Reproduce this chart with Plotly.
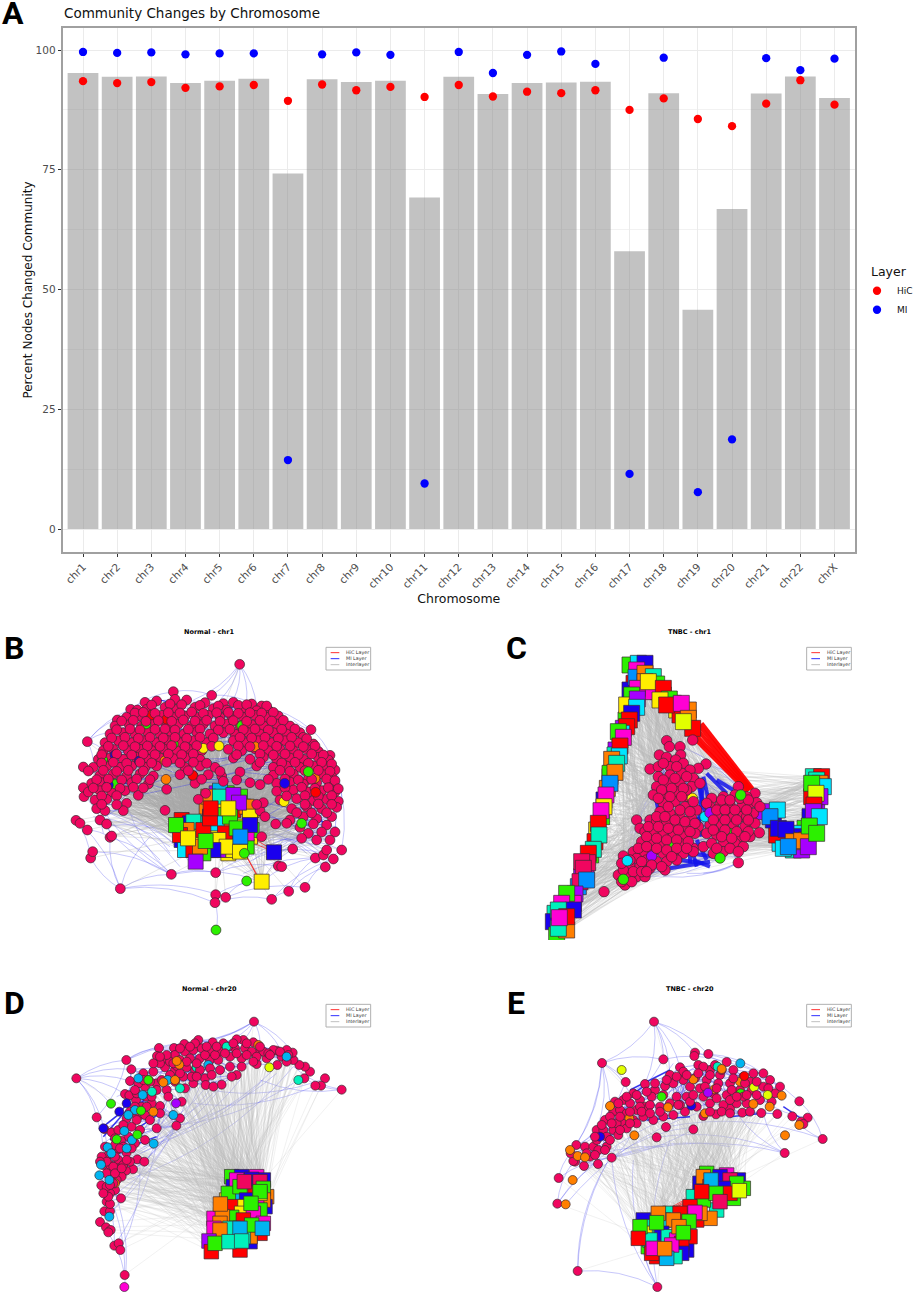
"""Community changes by chromosome, with four multilayer network panels."""
import plotly.graph_objects as go

FONT = "DejaVu Sans"
W, H = 913, 1293

# Panel A
CHROMS = [f"chr{i}" for i in range(1, 23)] + ["chrX"]
BAR_PCT = [95.2, 94.4, 94.5, 93.1, 93.6, 94.0, 74.2, 93.9, 93.3, 93.6, 69.2, 94.4,
           90.8, 93.1, 93.2, 93.4, 58.0, 91.0, 45.8, 66.8, 90.9, 94.5, 90.0]
HIC_PCT = [93.5, 93.1, 93.3, 92.1, 92.4, 92.7, 89.4, 92.8, 91.6, 92.3, 90.2, 92.7,
           90.3, 91.3, 91.0, 91.6, 87.5, 89.9, 85.6, 84.1, 88.8, 93.7, 88.6]
MI_PCT = [99.6, 99.4, 99.5, 99.1, 99.3, 99.3, 14.4, 99.1, 99.5, 99.0, 9.5, 99.6,
          95.2, 99.0, 99.7, 97.1, 11.5, 98.4, 7.7, 18.7, 98.3, 95.8, 98.2]

# community colours used by the network nodes
COMM = {"r": "#ff0000", "g": "#2cf000", "b": "#1a00ee", "y": "#ffee00", "p": "#a600ff",
        "o": "#ff7f00", "s": "#00b4f0", "m": "#ff00d4", "t": "#00f0bc", "k": "#f0065f",
        "c": "#00e4ff", "l": "#e2ff00", "u": "#0090ff"}
PINK = "#f0065f"

# Panel B, Normal chr1
B_outer = [(539,133),(340,215),(455,226),(255,247),(212,268),(232,270),(172,300),(82,365),(70,441),
           (753,329),(810,406),(825,450),(845,690),(820,717),(796,741),(735,802),(686,814),(635,838),
           (497,832),(467,824),(465,848),(467,758),(334,763),(181,806),(92,714),(98,695),(150,652),
           (48,601),(82,630),(60,610),(315,571),(437,520),(415,538),(655,738),(665,740),(698,687),
           (766,714),(790,705),(800,690),(70,503),(72,530)]
B_pink = [(290,243),(345,238),(380,240),(435,248),(490,251),(520,247),(575,252),(605,258),
          (260,268),(315,262),(350,268),(405,262),(460,266),(500,270),(550,265),(590,272),(625,270),
          (200,292),(235,288),(270,292),(305,286),(340,292),(375,288),(410,292),(445,286),(480,292),(515,288),(550,292),(585,286),(620,292),(655,288),
          (165,318),(208,314),(245,318),(280,312),(320,318),(355,312),(395,318),(430,312),(465,318),(500,312),(540,318),(575,314),(610,318),(650,312),(690,318),
          (150,342),(190,338),(225,342),(262,336),(300,342),(335,338),(372,342),(410,336),(450,342),(490,338),(525,342),(565,338),(600,342),(640,338),(680,342),(720,338),(730,352),
          (135,368),(175,362),(215,368),(250,362),(290,368),(325,362),(360,368),(400,362),(440,368),(520,362),(555,368),(595,362),(635,368),(675,362),(715,368),(760,372),
          (130,392),(160,388),(205,392),(240,388),(275,392),(310,386),(350,392),(385,388),(425,392),(505,388),(545,392),(585,386),(625,392),(660,388),(700,392),(740,388),(775,394),
          (115,418),(150,414),(190,418),(228,412),(265,418),(300,414),(340,416),(375,412),(420,418),(520,414),(570,418),(610,412),(650,418),(690,414),(730,418),(775,412),(805,420),
          (100,442),(140,438),(180,442),(215,438),(255,442),(290,438),(375,442),(420,438),(465,442),(590,438),(640,442),(680,438),(720,442),(760,438),(800,444),
          (120,466),(160,462),(200,468),(240,462),(280,468),(360,464),(400,468),(445,464),(485,468),(540,456),(640,466),(700,462),(745,478),(790,464),(815,470),
          (95,490),(125,488),(170,492),(215,488),(265,492),(405,490),(490,484),(570,488),(600,494),(650,490),(690,486),(730,492),(770,488),(810,492),
          (85,516),(120,512),(155,516),(195,512),(235,526),(320,508),(650,514),(700,510),(745,516),(785,512),(825,516),
          (105,540),(140,538),(200,550),(660,540),(710,536),(760,542),(800,538),(835,544),
          (110,566),(135,572),(190,572),(600,572),(610,548),(695,566),(740,560),(785,566),(830,562),
          (120,600),(140,612),(615,590),(690,600),(730,590),(770,596),(815,590),(647,612),(680,610),(720,622),(760,612),(800,615),
          (745,640),(785,636),(825,636),(605,650),(155,648),(725,655),(770,660),(810,660)]
B_fill = [(275,255),(330,252),(365,254),(420,256),(475,258),(535,256),(560,254),(620,258),
          (225,279),(250,277),(285,280),(325,278),(360,279),(395,276),(430,280),(470,278),(505,277),(535,280),(570,278),(605,279),(640,277),
          (185,303),(220,301),(258,304),(295,302),(335,304),(370,300),(405,303),(440,301),(480,304),(520,302),(560,304),(600,301),(635,303),(670,301),
          (170,329),(210,327),(240,330),(285,328),(315,327),(345,330),(385,328),(420,327),(475,330),(510,328),(550,329),(585,327),(625,330),(665,328),(705,327),
          (155,354),(195,352),(235,355),(270,352),(310,354),(345,352),(380,355),(420,352),(460,354),(540,352),(575,354),(615,352),(655,355),(695,352),(740,356),
          (145,379),(190,377),(225,380),(262,378),(300,379),(335,377),(375,380),(410,377),(455,379),(535,378),(570,380),(610,377),(650,379),(690,378),(730,380),(765,378),
          (125,404),(170,402),(215,405),(250,402),(285,404),(325,402),(365,404),(400,402),(530,404),(600,402),(640,405),(675,402),(715,404),(755,402),(790,405),
          (125,429),(160,427),(200,430),(240,427),(275,429),(320,427),(360,429),(400,427),(440,430),(600,427),(665,429),(705,427),(745,430),(785,427),(815,432),
          (85,453),(130,451),(170,454),(205,451),(250,453),(385,452),(480,454),(660,451),(690,454),(735,452),(775,451),(810,454),
          (110,479),(145,477),(185,480),(230,477),(270,479),(425,478),(530,480),(625,478),(675,477),(715,480),(755,478),(800,477),(825,482),
          (100,504),(140,502),(180,505),(220,502),(250,504),(675,503),(725,502),(765,505),(805,503),(835,506),
          (125,528),(170,527),(680,528),(735,527),(775,529),(815,527),(125,553),(170,554),(590,553),(735,553),(775,552),(815,553),(710,578),(755,579),(800,578)]
B_hidden = [(165,405,"b"),(238,423,"b"),(275,285,"r"),(320,298,"r"),(585,380,"o"),(165,492,"g"),(145,495,"b"),(128,420,"g"),
            (315,422,"o"),(430,385,"y"),(545,317,"g"),(258,312,"g"),(340,372,"g"),(672,545,"y"),(765,475,"o"),(398,466,"r"),(318,478,"o")]
B_other = [(745,455,"g"),(477,378,"y"),(767,517,"r"),(674,490,"b"),(560,783,"g"),(468,930,"g"),(553,700,"g"),(725,610,"g")]
B_squares = [(365,600,"r"),(390,610,"b"),(420,610,"g"),(445,610,"t"),(365,660,"b"),(385,680,"c"),(410,660,"r"),(440,640,"g"),
             (470,640,"y"),(520,660,"b"),(545,670,"o"),(570,650,"y"),(575,630,"g"),(575,570,"o"),(550,560,"b"),(520,570,"r"),
             (470,570,"g"),(440,560,"o"),(470,540,"y"),(500,520,"g"),(470,520,"p"),(505,700,"y"),(475,690,"p"),(450,670,"b"),
             (400,650,"y"),(520,690,"y"),
             (480,512,"s"),(445,530,"o"),(515,532,"r"),(540,530,"g"),(480,530,"t"),(560,560,"o"),(570,590,"y"),(450,590,"b"),
             (510,610,"o"),(400,605,"t"),(380,630,"o"),(360,645,"r"),(470,610,"c"),(430,630,"r"),(550,620,"y"),(495,640,"r"),
             (475,660,"y"),(500,680,"y"),(560,680,"g"),(540,695,"y"),(375,690,"c"),(400,690,"r"),(460,690,"b"),(430,700,"g"),
             (420,680,"o"),(560,640,"m"),(520,525,"p"),(537,548,"p"),(450,595,"r"),(510,590,"g"),(530,625,"g"),(570,615,"b"),
             (348,615,"g"),(452,565,"r"),(505,565,"y"),(384,655,"y"),(437,663,"g"),(541,650,"u"),(407,725,"p"),(642,697,"b"),(605,785,"y")]
B_arcs = [(539,133,480,240),(539,133,520,240),(539,133,560,245),(539,133,590,260),(539,133,455,226),(539,133,400,240),
          (82,365,165,300),(82,365,135,340),(82,365,130,390),(82,365,212,268),(82,365,100,440),
          (181,806,92,714),(181,806,150,652),(181,806,334,763),(181,806,465,848),(181,806,270,650),(181,806,497,832),
          (334,763,200,550),(334,763,120,600),(334,763,467,758),(334,763,605,785),(334,763,100,520),
          (467,824,605,785),(497,832,560,783),(497,832,735,802),(465,848,468,930),(465,848,635,838),
          (635,838,686,814),(635,838,820,717),(686,814,796,741),(735,802,845,690),(686,814,766,714),
          (605,785,766,714),(605,785,698,687),(642,697,820,640),(642,697,745,640),(600,650,780,660),(620,640,830,620),
          (590,690,790,600),(560,730,698,687),(550,760,820,717),(467,758,698,687),(467,758,655,738),
          (92,714,98,695),(82,630,150,652),(48,601,92,714),(150,652,334,763),(120,600,300,720),(110,570,380,700),
          (200,580,400,740),(60,610,181,806),(98,695,334,763),(753,329,700,300),(753,329,810,406),(810,406,845,560),
          (825,450,845,690),(172,300,270,240),(212,268,340,215),(340,215,455,226),(455,226,575,250),(605,260,753,329),
          (100,560,70,500),(70,503,130,640),(610,640,770,700),(630,660,800,690),(650,620,760,680),(640,640,796,741),
          (640,600,770,640),(620,620,800,660),(600,630,700,620),(650,650,740,700),(620,700,790,700),(100,590,330,680),(130,620,340,640),
          (610,680,820,650),(590,700,760,640),(640,720,810,620),(580,720,730,650),(660,660,845,690),(600,610,790,705),(150,580,360,740),(190,570,330,700)]
B_dense = [(300,240,340,250),(480,245,520,265),(700,320,760,370),(770,430,800,480),(730,580,800,610),(150,495,200,490)]
B_red = [(560,660,640,695),(570,650,640,690),(560,710,600,785),(555,700,605,790)]

# Panel C, TNBC chr1
C_outer = [(410,362),(418,380),(450,380),(488,360),(360,447),(528,432),(222,815),(625,728),(688,638),(625,500),(675,520)]
C_pink = [(388,405),(410,412),(452,405),(437,420),(505,445),(385,440),(420,440),(460,430),(480,450),
          (385,470),(420,465),(455,460),(490,475),(380,500),(415,490),(450,490),(485,500),(510,490),(650,530),
          (405,520),(440,515),(475,530),(545,535),(580,530),(615,525),(660,550),(680,548),(370,525),(400,550),
          (435,545),(465,560),(500,570),(540,560),(570,555),(600,555),(635,560),(670,580),(390,575),(420,580),
          (450,590),(485,595),(530,590),(560,585),(595,585),(630,590),(675,610),(360,600),(320,600),(330,625),
          (380,605),(410,610),(440,615),(470,620),(505,620),(540,615),(575,615),(610,615),(645,620),(345,635),
          (370,635),(400,640),(430,645),(460,650),(495,640),(530,640),(560,645),(595,640),(630,650),(660,650),
          (335,665),(360,665),(390,670),(420,675),(450,670),(490,685),(520,680),(545,670),(580,665),(615,670),
          (640,680),(310,695),(340,695),(370,695),(400,700),(430,700),(460,700),(490,695),(550,700),(580,695),
          (280,708),(320,715),(350,720),(380,725),(410,725),(440,720),(300,740),(330,740),(360,745),(405,750),
          (265,765),(290,765),(320,770),(345,770),(285,795),(300,770),(280,750),(530,550),(610,590),(650,590)]
C_fill = [(400,430),(440,440),(470,470),(400,480),(435,475),(470,510),(395,510),(425,505),(460,505),(385,535),(420,530),(455,530),
          (490,545),(415,560),(450,570),(480,575),(380,590),(405,590),(435,600),(465,605),(495,610),(575,540),(600,540),(630,535),
          (655,540),(560,570),(585,570),(615,570),(650,570),(690,560),(550,600),(585,600),(620,600),(655,600),(550,630),(585,630),
          (620,635),(655,635),(575,650),(605,655),(645,650),(560,685),(600,685),(625,695),(355,620),(385,620),(415,625),(445,630),
          (480,635),(350,650),(380,655),(410,660),(440,660),(475,665),(325,685),(350,680),(380,685),(410,690),(440,685),(470,685),
          (300,720),(335,725),(365,735),(395,740),(425,710),(275,730),(310,755),(335,755),(350,755),(275,785),(305,785)]
C_hidden = [(420,675,"g"),(597,640,"g"),(525,590,"c"),(540,578,"p"),(365,708,"p"),(487,535,"y")]
C_other = [(632,525,"g"),(570,714,"g"),(280,778,"g"),(292,722,"c")]
C_squares = [(312,190,"r"),(300,210,"b"),(308,240,"c"),(295,275,"y"),(288,300,"g"),(280,325,"p"),(270,360,"g"),(258,390,"p"),
             (255,405,"t"),(250,440,"r"),(240,470,"t"),(232,505,"o"),(222,540,"b"),(215,590,"g"),(200,630,"y"),(195,665,"r"),
             (182,705,"g"),(168,760,"m"),(155,770,"p"),(145,800,"u"),(125,840,"o"),(105,870,"y"),(75,880,"t"),(70,905,"b"),
             (100,925,"b"),(80,945,"g"),(110,930,"o"),(860,500,"b"),(850,470,"t"),(875,470,"r"),(845,530,"r"),(860,570,"p"),
             (840,590,"b"),(825,625,"g"),(810,640,"c"),(800,650,"b"),(770,660,"u"),(760,650,"b"),(750,670,"c"),(740,645,"r"),
             (730,600,"b"),(790,690,"t"),(830,660,"r"),(815,690,"p"),(335,175,"c"),(360,200,"y"),(385,215,"t"),(400,225,"g"),
             (430,250,"o"),(440,270,"y"),(475,270,"o"),(450,285,"r"),
             (300,135,"g"),(325,130,"c"),(345,130,"b"),(320,150,"m"),(318,172,"u"),(345,160,"o"),(370,170,"t"),(345,185,"o"),
             (380,192,"g"),(365,215,"m"),(322,205,"m"),(305,225,"g"),(290,255,"y"),(322,237,"p"),(320,262,"c"),(305,280,"b"),
             (298,300,"r"),(290,320,"r"),(275,340,"c"),(265,335,"g"),(280,352,"m"),(270,378,"r"),(268,408,"c"),(245,418,"o"),
             (260,430,"t"),(240,460,"g"),(255,457,"o"),(240,490,"u"),(228,525,"m"),(222,560,"y"),(213,572,"m"),(205,610,"r"),
             (207,645,"t"),(190,688,"t"),(175,700,"r"),(173,728,"k"),(155,725,"k"),(160,745,"k"),(150,785,"k"),(170,780,"u"),
             (135,822,"p"),(130,850,"m"),(110,820,"g"),(95,850,"m"),(130,870,"b"),(85,870,"t"),(110,890,"r"),(85,925,"t"),(88,893,"m"),
             (355,185,"y"),(400,205,"r"),(418,237,"g"),(390,240,"y"),(410,255,"r"),(454,250,"m"),(475,295,"o"),(488,325,"r"),(460,305,"l"),
             (700,575,"p"),(742,570,"c"),(720,590,"u"),(745,625,"b"),(768,628,"b"),(760,685,"c"),(790,665,"o"),(815,662,"o"),(775,680,"u"),(835,680,"p"),
             (860,480,"t"),(870,490,"o"),(880,500,"c"),(845,490,"g"),(870,530,"p"),(858,520,"l"),(852,555,"r"),(850,575,"p"),(868,590,"c"),(838,618,"g"),(860,640,"g")]
C_arcs = [(625,728,540,500),(625,728,600,650),(625,728,400,770),(625,728,520,760),(625,728,470,760),(570,714,350,770),
          (320,600,370,500),(320,600,290,710),(290,710,380,500),(300,640,390,520),(280,708,430,730),(345,770,570,715),
          (400,770,610,700),(528,432,620,500),(488,360,620,500),(410,362,610,490),(450,380,640,510),(528,432,680,520),
          (505,445,660,520),(520,460,630,520),(500,480,620,550),(500,500,600,530),(370,510,400,620),(380,520,370,620),
          (370,540,360,600),(330,600,375,510),(310,660,370,530),(360,770,620,710),(300,780,560,720)]
C_dense = [(520,480,505,620),(520,470,540,560),(475,650,500,740),(500,660,530,720),(450,720,520,730),(510,500,525,580),
           (380,510,395,560),(470,700,560,710),(420,745,540,725),(560,480,610,510),(530,460,590,520),(505,590,515,650),
           (370,500,385,570),(490,720,540,740),(480,660,480,730),(500,470,520,560)]
C_red = [(478,340,652,515),(488,335,656,512),(498,325,660,510),(508,318,664,508),(515,310,668,506),(395,255,470,285),(410,250,480,300)]

# Panel D, Normal chr20
D_outer = [(582,125),(49,295),(199,240),(845,329),(795,295),(783,317),(766,317),(733,295),(110,412),(194,885),
           (120,726),(138,742),(152,750),(145,757),(163,797),(176,790),(181,810),(133,694),(150,694)]
D_pink = [(750,275),(735,260),(718,255),(700,240),(698,218),(680,210),(650,212),(652,255),(665,230),(620,235),(590,252),
          (640,210),(600,215),(580,187),(550,180),(530,178),(555,205),(525,205),(505,200),(490,190),(458,187),(415,180),
          (373,192),(342,204),(297,204),(291,228),(315,240),(345,225),(375,215),(400,210),(425,205),(450,215),(480,215),
          (510,230),(545,235),(575,215),(610,215),(420,235),(450,240),(475,240),(530,285),(515,290),(485,314),(435,295),
          (437,315),(400,310),(370,290),(345,270),(315,262),(280,275),(250,280),(214,268),(210,303),(255,320),(290,310),
          (320,330),(375,325),(345,305),(405,270),(380,262),(350,258),(290,330),(258,350),(228,360),(195,342),(208,346),
          (300,378),(325,350),(365,365),(133,447),(155,457),(175,450),(200,415),(215,440),(240,405),(255,405),(245,380),
          (275,370),(225,400),(300,400),(360,415),(349,437),(290,445),(240,450),(205,470),(183,482),(255,480),(200,518),
          (170,510),(145,525),(125,530),(130,555),(150,555),(175,540),(232,538),(253,545),(219,568),(198,572),(175,565),
          (155,580),(185,590),(170,600),(150,600),(124,616),(165,630),(150,640),(183,655),(140,665),(150,672)]
D_fill = [(300,250),(330,245),(360,240),(390,235),(435,225),(465,225),(495,220),(530,220),(560,225),(590,230),(625,220),(680,245),
          (330,285),(360,280),(395,290),(420,270),(450,265),(480,270),(510,260),(545,260),(580,245),(265,300),(235,310),(275,350),
          (305,300),(260,380),(225,380),(210,395),(190,435),(165,475),(230,420),(270,420),(225,490),(190,500),(165,530),(140,545),
          (160,560),(190,555),(210,545),(140,580),(165,580),(140,620),(160,610),(145,650),
          (440,200),(470,200),(520,190),(560,190),(600,200),(630,225),(660,215),(685,225),(405,190),(390,200),(360,205),(320,225),
          (300,230),(280,250),(250,300),(230,340),(270,305),(135,500),(165,495),(120,545),(180,505),(215,505),(200,540),(185,565),
          (150,615),(130,640),(340,250),(380,245),(410,250),(455,285),(410,290),(460,320),(225,330)]
D_hidden = [(348,370,"p"),(200,370,"b"),(178,395,"b"),(130,445,"b"),(595,195,"o"),(165,610,"o"),(500,200,"t"),(445,255,"s"),(410,262,"t")]
D_other = [(193,921,"m"),(680,230,"s"),(715,300,"t"),(235,295,"s"),(323,300,"s"),
           (276,335,"t"),(360,325,"t"),(248,345,"s"),(225,390,"s"),(205,405,"s"),(340,405,"s"),(193,453,"s"),(216,480,"s"),
           (281,491,"s"),(143,502,"s"),(154,520,"s"),(123,554,"s"),(118,586,"s"),(148,600,"s"),(148,710,"s"),(200,505,"s"),
           (265,300,"g"),(153,371,"g"),(232,464,"g"),(170,478,"g"),(243,392,"g"),(358,254,"o"),(350,243,"o"),(310,307,"o"),
           (345,300,"o"),(280,395,"o"),(628,262,"l")]
D_squares = [(515,590,"g"),(545,590,"b"),(590,590,"m"),(610,600,"b"),(620,650,"o"),(615,680,"b"),(590,715,"g"),(600,760,"r"),
             (520,620,"b"),(500,660,"y"),(530,700,"g"),(560,730,"y"),(540,760,"m"),(570,785,"b"),
             (530,600,"m"),(575,598,"b"),(600,605,"k"),(610,625,"g"),(530,645,"s"),(505,640,"g"),(540,620,"g"),(585,640,"r"),
             (610,660,"o"),(560,660,"b"),(520,680,"r"),(555,680,"y"),(590,680,"m"),(600,690,"g"),(545,700,"y"),(515,712,"g"),
             (580,700,"m"),(550,720,"r"),(570,770,"o"),(550,770,"t"),(610,730,"m"),(520,745,"t"),(462,715,"m"),(487,710,"o"),
             (480,730,"o"),(462,745,"m"),(510,745,"t"),(600,640,"y"),(600,635,"g"),(553,605,"k"),(573,670,"g"),(481,672,"o"),
             (480,750,"o"),(575,735,"g"),(540,745,"s"),(607,745,"s"),(447,783,"p"),(454,815,"r"),(540,810,"r"),(465,790,"g"),(507,785,"t"),(545,783,"t")]
D_arcs = [(582,125,430,180),(582,125,500,185),(582,125,550,180),(582,125,600,190),(582,125,660,205),(582,125,700,220),(582,125,330,195),
          (49,295,199,240),(49,295,214,268),(49,295,210,303),(49,295,110,412),(49,295,133,447),(49,295,195,342),(49,295,150,370),
          (199,240,373,192),(199,240,297,204),(199,240,255,320),(199,240,110,412),(110,412,124,616),(133,447,120,726),
          (124,616,163,797),(120,726,194,885),(118,586,194,885),(150,600,193,921),(240,540,181,810),(300,400,163,797),
          (400,300,150,700),(500,300,200,540),(640,270,210,500),(700,260,200,600),(845,329,600,300),(845,329,733,295),
          (845,329,700,260),(795,295,450,330),(766,317,400,370),(715,300,300,440),(650,280,290,450),(610,300,250,500),
          (540,300,240,520),(582,125,280,210),(199,240,480,190),(470,300,190,540),(420,320,180,600),(360,420,170,640),(320,380,150,700),
          (280,300,120,500),(250,300,140,430),(300,250,170,350),(480,320,250,460),(440,320,240,470),(400,320,240,450),(350,400,220,520)]
D_dense = [(200,370,250,300),(180,400,220,340),(130,440,180,400),(130,470,200,390),(150,480,260,350),(240,440,300,400),(210,500,290,470),(300,230,400,200)]
D_red = []

# Panel E, TNBC chr20
E_outer = [(372,125),(216,249),(287,306),(400,238),(495,218),(493,228),(535,222),(590,246),(808,364),(833,413),(878,477),
           (764,519),(86,594),(82,671),(143,873),(382,921),(813,425),(820,432),(787,409),(490,448),(408,441),(380,472),(245,533)]
E_pink = [(742,402),(694,399),(637,398),(600,386),(558,403),(520,408),(204,552),(162,558),(135,545),(130,543),(122,520),
          (139,495),(165,500),(190,500),(180,530),(205,510),(230,500),(200,450),(225,420),(250,395),(255,365),(280,360),
          (310,340),(345,312),(375,330),(405,318),(420,285),(450,262),(505,255),(540,270),(570,285),(610,270),(640,290),
          (670,280),(700,280),(720,300),(750,320),(735,340),(700,320),(665,330),(630,330),(600,310),(565,310),(530,300),
          (495,295),(460,300),(430,310),(400,345),(365,350),(330,360),(300,370),(270,390),(240,410),(220,450),(250,450),
          (280,430),(310,420),(340,410),(370,420),(400,410),(430,405),(465,395),(500,380),(540,370),(580,375),(620,370),
          (650,370),(690,360),(725,365),(510,325),(550,340),(590,345),(440,350),(470,350),(320,390),(290,400),(260,430),
          (200,480),(230,470),(265,465),(290,445),(320,430),(345,380),(460,275),(480,320),(520,260),(555,255),(660,305)]
E_fill = [(170,520),(195,525),(225,510),(240,480),(195,470),(215,435),(270,410),(300,395),(330,380),(360,375),(390,380),(420,370),
          (450,375),(480,365),(520,350),(560,355),(600,360),(640,350),(680,345),(715,325),(680,305),(645,310),(610,295),(575,270),
          (540,285),(505,280),(470,285),(440,290),(410,300),(375,310),(350,335),(320,345),(290,350),(265,370),(245,430),(270,450),
          (300,430),(335,395),(360,400),(390,395),(445,375),(490,345),(525,320),(560,325),(605,330),(650,345),(620,350),(575,395),
          (540,395),(600,400),(660,395)]
E_hidden = [(490,298,"o"),(630,305,"o"),(240,378,"o"),(298,415,"o"),(525,400,"o"),(395,350,"g"),(632,340,"g"),(210,470,"b"),(484,377,"b"),(672,322,"l"),(553,328,"o")]
E_other = [(275,270,"l"),(713,345,"l"),(631,250,"s"),(563,260,"t"),(575,267,"o"),(128,600,"o"),(107,673,"o"),
           (765,466,"o"),(313,466,"o"),(143,528,"o"),(165,532,"o"),(120,510,"o"),(670,372,"o"),(719,380,"o"),(414,382,"o"),
           (755,347,"o"),(808,435,"o"),(534,338,"p"),(643,288,"r")]
E_squares = [(510,610,"b"),(530,580,"g"),(590,585,"m"),(625,600,"b"),(640,625,"g"),(610,655,"g"),(560,690,"t"),(540,715,"o"),
             (500,720,"r"),(420,700,"t"),(340,720,"b"),(355,800,"g"),(380,830,"r"),(470,810,"b"),(480,770,"r"),(400,720,"c"),
             (520,590,"o"),(570,590,"b"),(600,600,"k"),(620,610,"g"),(540,620,"r"),(490,650,"t"),(580,625,"b"),(600,640,"r"),
             (520,660,"g"),(480,680,"r"),(450,700,"r"),(430,720,"o"),(385,700,"o"),(350,740,"t"),(345,760,"y"),(395,760,"b"),
             (415,770,"t"),(440,780,"m"),(360,780,"t"),(330,740,"g"),(455,790,"r"),(455,820,"b"),(435,830,"t"),(365,820,"r"),
             (510,700,"o"),(425,795,"m"),(543,600,"s"),(558,640,"g"),(515,635,"r"),(628,632,"l"),(570,665,"k"),(495,697,"m"),
             (477,724,"g"),(380,728,"g"),(447,740,"o"),(460,758,"g"),(325,775,"r"),(410,835,"s"),(370,805,"m"),(404,806,"o")]
E_arcs = [(372,125,400,238),(372,125,216,249),(372,125,345,312),(372,125,450,262),(372,125,495,218),(372,125,535,222),(372,125,420,285),
          (216,249,287,306),(216,249,139,495),(216,249,230,500),(216,249,400,238),(216,249,122,520),(216,249,300,340),(216,249,200,450),
          (86,594,122,520),(86,594,245,533),(82,671,130,545),(82,671,250,520),(82,671,400,420),(107,673,500,400),(143,873,260,500),
          (143,873,230,550),(382,921,245,533),(382,921,310,540),(382,921,420,480),(382,921,330,720),(143,873,382,921),(245,533,764,519),
          (380,472,764,519),(408,441,878,477),(808,364,878,477),(764,519,700,400),(764,519,620,400),(878,477,787,409),(833,413,700,360),
          (300,470,245,533),(490,448,130,540),(245,533,500,440),(400,238,590,246),(495,218,640,290),(535,222,700,280),(287,306,150,495),
          (400,238,150,490),(245,533,600,500),(120,560,400,500),(500,220,720,300),(590,246,808,364),(430,250,120,510)]
E_dense = [(215,430,300,340),(240,390,340,320),(180,470,240,410),(300,330,420,270),(760,380,820,420),(600,410,700,400),(350,420,480,410)]
E_red = [(410,700,490,650),(415,705,500,650),(420,710,510,640),(405,695,490,660),(430,710,480,670),(440,715,510,660),(420,690,500,640),(412,688,490,645)]

# title, crop left/top/width/height, title y, legend top, then the panel's nodes and edges
PANELS = [
    dict(title="Normal - chr1", left=60, top=620, cw=320, ch=320, title_x=447, title_y=35, leg_x=798, leg_top=82,
         outer=B_outer, pink=B_pink, fill=B_fill, hidden=B_hidden, other=B_other, squares=B_squares, arcs=B_arcs, dense=B_dense, red=B_red,
         red_w=1, red_a=0.6, sq=15, node=9.8, dense_w=1.2, fan=5, grey="rgba(170,170,170,0.45)"),
    dict(title="TNBC - chr1", left=530, top=620, cw=330, ch=320, title_x=480, title_y=35, leg_x=830, leg_top=82,
         outer=C_outer, pink=C_pink, fill=C_fill, hidden=C_hidden, other=C_other, squares=C_squares, arcs=C_arcs, dense=C_dense, red=C_red,
         red_w=4, red_a=0.95, sq=16, node=10.5, dense_w=4, fan=6, grey="rgba(185,185,185,0.4)"),
    dict(title="Normal - chr20", left=60, top=980, cw=320, ch=313, title_x=447, title_y=27, leg_x=798, leg_top=73,
         outer=D_outer, pink=D_pink, fill=D_fill, hidden=D_hidden, other=D_other, squares=D_squares, arcs=D_arcs, dense=D_dense, red=D_red,
         red_w=1, red_a=0.6, sq=14.5, node=9, dense_w=1.5, fan=3, grey="rgba(190,190,190,0.32)"),
    dict(title="TNBC - chr20", left=530, top=980, cw=330, ch=313, title_x=480, title_y=27, leg_x=830, leg_top=73,
         outer=E_outer, pink=E_pink, fill=E_fill, hidden=E_hidden, other=E_other, squares=E_squares, arcs=E_arcs, dense=E_dense, red=E_red,
         red_w=1, red_a=0.6, sq=14.5, node=9, dense_w=1.5, fan=3, grey="rgba(190,190,190,0.32)"),
]


def segments(edges):
    xs, ys = [], []
    for x0, y0, x1, y1 in edges:
        xs += [x0, x1, None]
        ys += [y0, y1, None]
    return xs, ys


def arc_path(edges):
    parts = []
    for x0, y0, x1, y1 in edges:
        cx = (x0 + x1) / 2 + (y1 - y0) * 0.14
        cy = (y0 + y1) / 2 - (x1 - x0) * 0.14
        parts.append(f"M {x0} {y0} Q {cx:.1f} {cy:.1f} {x1} {y1}")
    return " ".join(parts)


def px_x(x):
    return x / W


def px_y(y):
    return 1 - y / H


def near(a, b, limit=110):
    return abs(a[0] - b[0]) < limit and abs(a[1] - b[1]) < limit


def line_trace(edges, xa, ya, color, width):
    xs, ys = segments(edges)
    return go.Scatter(x=xs, y=ys, xaxis=xa, yaxis=ya, mode="lines", showlegend=False, hoverinfo="skip",
                      line=dict(color=color, width=width))


def node_trace(points, xa, ya, size, color, symbol="circle"):
    return go.Scatter(x=[q[0] for q in points], y=[q[1] for q in points], xaxis=xa, yaxis=ya, mode="markers",
                      showlegend=False, hoverinfo="skip",
                      marker=dict(symbol=symbol, size=size, color=color, line=dict(color="#3a2a30", width=0.7)))


fig = go.Figure()

# --- Panel A ---
fig.add_trace(go.Bar(x=CHROMS, y=BAR_PCT, width=0.9, marker=dict(color="rgba(128,128,128,0.48)", line_width=0),
                     showlegend=False, hoverinfo="skip"))
fig.add_trace(go.Scatter(x=CHROMS, y=HIC_PCT, mode="markers", name="HiC", marker=dict(color="#ff0000", size=8.3)))
fig.add_trace(go.Scatter(x=CHROMS, y=MI_PCT, mode="markers", name="MI", marker=dict(color="#0000ff", size=8.3)))

annotations = [
    dict(text="Community Changes by Chromosome", x=px_x(62), y=px_y(13), xref="paper", yref="paper",
         xanchor="left", yanchor="middle", showarrow=False, font=dict(size=13.5, color="#111")),
]
for letter, lx, ly in [("A", 13, 13), ("B", 14, 648), ("C", 516, 648), ("D", 14, 1003), ("E", 516, 1003)]:
    annotations.append(dict(text=f"<b>{letter}</b>", x=px_x(lx), y=px_y(ly), xref="paper", yref="paper",
                            xanchor="center", yanchor="middle", showarrow=False,
                            font=dict(family="Roboto", size=32, color="black")))

shapes = []
axes = {}

# --- Network panels ---
for n, p in enumerate(PANELS, start=2):
    xa, ya = f"x{n}", f"y{n}"
    left, top, cw, ch = p["left"], p["top"], p["cw"], p["ch"]
    axes[f"xaxis{n}"] = dict(domain=[px_x(left), px_x(left + cw)], range=[0, cw * 3], visible=False, anchor=ya, fixedrange=True)
    axes[f"yaxis{n}"] = dict(domain=[px_y(top + ch), px_y(top)], range=[ch * 3, 0], visible=False, anchor=xa, fixedrange=True)

    outer, squares = p["outer"], p["squares"]
    pink = p["pink"] + p["fill"]
    inter = [(*outer[i], *squares[i % len(squares)][:2]) for i in range(len(outer))]
    inter += [(*pink[i % len(pink)], *squares[i % len(squares)][:2]) for i in range(len(pink) * p["fan"])]
    local = []
    for step in (1, 3, 14, 15):
        for i in range(len(pink)):
            other_node = pink[(i + step) % len(pink)]
            if near(pink[i], other_node):
                local.append((*pink[i], *other_node))

    shapes.append(dict(type="path", path=arc_path(p["arcs"]), xref=xa, yref=ya, layer="below",
                       line=dict(color="rgba(70,70,240,0.38)", width=0.8)))

    fig.add_trace(line_trace(inter, xa, ya, p["grey"], 0.65))
    fig.add_trace(line_trace(local, xa, ya, "rgba(50,50,240,0.5)", 0.7))
    fig.add_trace(line_trace(p["dense"], xa, ya, "rgba(20,20,235,0.85)", p["dense_w"]))
    if p["red"]:
        fig.add_trace(line_trace(p["red"], xa, ya, f"rgba(255,0,0,{p['red_a']})", p["red_w"]))

    fig.add_trace(node_trace(squares, xa, ya, p["sq"], [COMM[s[2]] for s in squares], "square"))
    fig.add_trace(node_trace(outer + p["pink"], xa, ya, p["node"], PINK))
    # these sit inside the pink mass, so the last pink nodes partly cover them
    fig.add_trace(node_trace(p["hidden"], xa, ya, p["node"], [COMM[o[2]] for o in p["hidden"]]))
    fig.add_trace(node_trace(p["fill"], xa, ya, p["node"], PINK))
    fig.add_trace(node_trace(p["other"], xa, ya, p["node"], [COMM[o[2]] for o in p["other"]]))

    annotations.append(dict(text=f"<b>{p['title']}</b>", x=p["title_x"], y=p["title_y"], xref=xa, yref=ya,
                            showarrow=False, font=dict(size=6.5, color="black")))

    # small matplotlib style legend
    bx0, leg_top = p["leg_x"], p["leg_top"]
    shapes.append(dict(type="rect", xref=xa, yref=ya, x0=bx0, x1=bx0 + 134, y0=leg_top, y1=leg_top + 68,
                       fillcolor="white", line=dict(color="#b0b0b0", width=1)))
    for k, (name, col) in enumerate([("HiC Layer", "#ff3030"), ("MI Layer", "#3030ff"), ("Interlayer", "#c0c0c0")]):
        row_y = leg_top + 16 + k * 18
        shapes.append(dict(type="line", xref=xa, yref=ya, x0=bx0 + 14, x1=bx0 + 40, y0=row_y, y1=row_y,
                           line=dict(color=col, width=1)))
        annotations.append(dict(text=name, x=bx0 + 54, y=row_y, xref=xa, yref=ya, xanchor="left",
                                showarrow=False, font=dict(size=4.8, color="#333")))

fig.update_layout(
    width=W, height=H,
    font=dict(family=FONT, size=11, color="#111"),
    paper_bgcolor="white", plot_bgcolor="white",
    margin=dict(l=0, r=0, t=0, b=0, autoexpand=False),
    showlegend=True,
    legend=dict(title=dict(text="\u00a0\u00a0\u00a0Layer", font=dict(size=12.5)), x=px_x(857), y=px_y(260), xanchor="left", yanchor="top",
                font=dict(size=9), bgcolor="rgba(0,0,0,0)", itemwidth=30),
    xaxis=dict(domain=[px_x(62.5), px_x(855)], range=[-0.6, 22.6], type="category", categoryorder="array",
               categoryarray=CHROMS, tickangle=-45, ticks="outside", ticklen=3, tickcolor="#333",
               tickfont=dict(size=10.5, color="#4d4d4d"), showgrid=True, gridcolor="#ebebeb", gridwidth=0.8,
               showline=True, mirror=True, linecolor="#a0a0a0", linewidth=1.5, zeroline=False,
               title=dict(text="Chromosome", font=dict(size=12.5), standoff=0)),
    yaxis=dict(domain=[px_y(552), px_y(28)], range=[-4.8, 104.6], tickvals=[0, 25, 50, 75, 100], ticks="outside",
               ticklen=3, tickcolor="#333", tickfont=dict(size=10.5, color="#4d4d4d"), showgrid=True,
               gridcolor="#ebebeb", gridwidth=0.8, showline=True, mirror=True, linecolor="#a0a0a0", linewidth=1.5,
               zeroline=False, minor=dict(tickvals=[12.5, 37.5, 62.5, 87.5], showgrid=True, gridcolor="#f2f2f2", gridwidth=0.5),
               title=dict(text="Percent Nodes Changed Community", font=dict(size=12), standoff=0)),
    annotations=annotations,
    shapes=shapes,
    **axes,
)

fig.write_html("out.html", config={"displayModeBar": False}, post_script="document.body.style.margin='0';")
